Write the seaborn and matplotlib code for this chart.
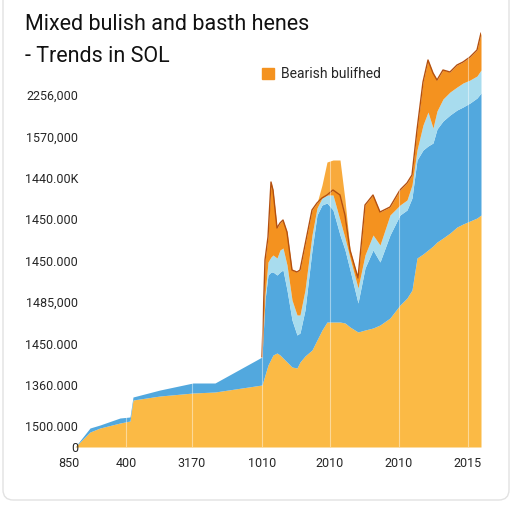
import matplotlib
matplotlib.use('Agg')
import matplotlib.pyplot as plt
import seaborn as sns
import pandas as pd
from matplotlib.patches import Patch, FancyBboxPatch

# Data preparation (x position along axis, stacked layer tops)
x_pos = [75, 90, 100, 120, 130, 133, 160, 193, 215, 262, 265, 268, 271, 273, 277, 280, 283, 287,
         292, 297, 300, 305, 312, 317, 322, 327, 333, 340, 345, 350, 358, 365, 373, 380, 390,
         400, 407, 412, 417, 423, 428, 433, 437, 443, 450, 457, 463, 470, 477, 481]

top_yellow = [0, 15, 19, 24, 26, 47, 51, 54, 55, 62, 72, 82, 88, 92, 94, 92, 89, 85,
              80, 79, 85, 91, 97, 107, 117, 125, 125, 125, 124, 120, 115, 117, 119, 122, 129,
              142, 149, 157, 189, 193, 197, 201, 205, 209, 214, 220, 223, 226, 229, 232]
top_blue = [0, 19, 22, 29, 30, 50, 57, 64, 64, 90, 147, 172, 175, 175, 172, 175, 177, 157,
            127, 112, 114, 137, 197, 232, 242, 244, 237, 212, 197, 177, 144, 179, 197, 185, 212,
            232, 237, 249, 287, 297, 301, 304, 318, 326, 332, 337, 340, 344, 349, 354]
top_lightblue = [0, 19, 22, 29, 30, 50, 57, 64, 64, 90, 152, 185, 190, 192, 189, 197, 199, 182,
                 147, 132, 132, 157, 212, 239, 249, 252, 252, 227, 209, 189, 159, 192, 212, 202, 232,
                 242, 247, 262, 297, 322, 335, 319, 336, 348, 355, 360, 364, 367, 371, 377]
top_orange = [0, 19, 22, 29, 30, 50, 57, 64, 64, 90, 187, 210, 265, 257, 219, 224, 227, 215,
              177, 175, 177, 202, 237, 244, 249, 252, 257, 252, 232, 197, 169, 242, 252, 235, 240,
              257, 264, 272, 317, 365, 387, 374, 367, 377, 375, 382, 385, 390, 397, 414]
top_lightorange = [0, 19, 22, 29, 30, 50, 57, 64, 64, 90, 187, 210, 265, 257, 219, 224, 227, 215,
                   177, 175, 177, 202, 237, 244, 262, 285, 287, 287, 247, 197, 169, 242, 252, 235, 240,
                   257, 264, 272, 317, 365, 387, 374, 367, 377, 375, 382, 385, 390, 397, 414]

x_tick_pos = [69, 126, 192, 262, 330, 399, 468]
x_tick_labels = ['850', '400', '3170', '1010', '2010', '2010', '2015']
y_tick_pos = [0, 21, 62, 103, 145, 186, 228, 269, 310, 352]
y_tick_labels = ['0', '1500.000', '1360.000', '1450.000', '1485,000', '1450.000',
                 '1450.000', '1440.00K', '1570,000', '2256,000']

df = pd.DataFrame({'x': x_pos, 'yellow': top_yellow, 'blue': top_blue,
                   'lightblue': top_lightblue, 'orange': top_orange,
                   'lightorange': top_lightorange})

# Set visual style
sns.set_style("white")
plt.rcParams['font.family'] = ['Roboto', 'DejaVu Sans']

fig = plt.figure(figsize=(5.12, 5.12), dpi=100)
fig.patches.append(FancyBboxPatch((3 / 512, 12 / 512), 506 / 512, 520 / 512,
                                  boxstyle='round,pad=0,rounding_size=0.02',
                                  transform=fig.transFigure, facecolor='white',
                                  edgecolor='#e2e2e2', linewidth=1.0, zorder=-1))
ax = fig.add_axes([60 / 512, 65 / 512, 421 / 512, 417 / 512])
ax.patch.set_alpha(0)

ax.fill_between(df['x'], 0, df['yellow'], color='#FBBA45', linewidth=0)
ax.fill_between(df['x'], df['yellow'], df['blue'], color='#52A8DE', linewidth=0)
ax.fill_between(df['x'], df['blue'], df['lightblue'], color='#A8DCEE', linewidth=0)
ax.fill_between(df['x'], df['lightblue'], df['orange'], color='#F4921F', linewidth=0)
ax.fill_between(df['x'], df['orange'], df['lightorange'], color='#F8AA3C', linewidth=0)
sns.lineplot(data=df[df['x'] >= 262], x='x', y='orange', color='#B4500F', linewidth=1.0, ax=ax)

ax.set_xlim(60, 481)
ax.set_ylim(0, 417)
ax.set_xticks(x_tick_pos)
ax.set_xticklabels(x_tick_labels, fontsize=9)
ax.set_yticks(y_tick_pos)
ax.set_yticklabels(y_tick_labels, fontsize=9)
ax.tick_params(axis='y', length=0, pad=-13)
ax.tick_params(axis='x', length=0, pad=7)
ax.grid(axis='x', color='white', alpha=0.45, linewidth=0.8)
ax.set_axisbelow(False)
for s in ax.spines.values():
    s.set_visible(False)
ax.set_xlabel('')
ax.set_ylabel('')

fig.text(25 / 512, 1 - 30 / 512, 'Mixed bulish and basth henes', fontsize=15.5, color='#111111')
fig.text(25 / 512, 1 - 62 / 512, '- Trends in SOL', fontsize=15.5, color='#111111')

ax.legend(handles=[Patch(color='#F4921F')], labels=['Bearish bulifhed'], loc='upper left',
          bbox_to_anchor=(262 / 512, 1 - 67 / 512), bbox_transform=fig.transFigure,
          frameon=False, fontsize=10, handlelength=0.85, handleheight=0.85,
          handletextpad=0.5, borderaxespad=0, borderpad=0)

plt.savefig('out.png', dpi=100)
